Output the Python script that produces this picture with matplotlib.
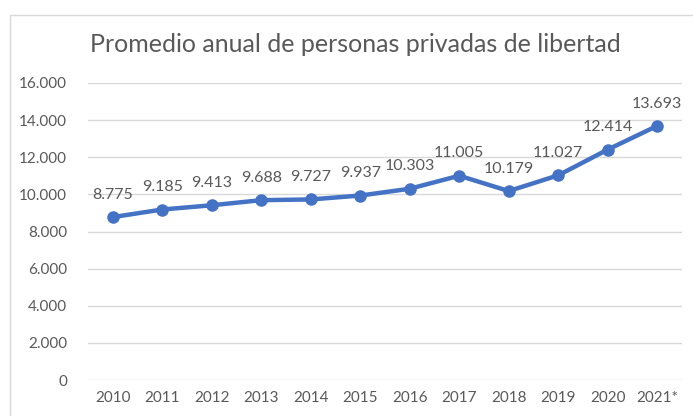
import matplotlib.pyplot as plt
from matplotlib.patches import Rectangle

years = ["2010", "2011", "2012", "2013", "2014", "2015", "2016", "2017", "2018", "2019", "2020", "2021*"]
promedio = [8775, 9185, 9413, 9688, 9727, 9937, 10303, 11005, 10179, 11027, 12414, 13693]
yticks = [0, 2000, 4000, 6000, 8000, 10000, 12000, 14000, 16000]

plt.rcParams['font.family'] = ['Lato', 'DejaVu Sans']
gray = "#595959"

fig = plt.figure(figsize=(6.93, 4.16), dpi=100)
ax = fig.add_axes([88 / 693, 1 - 380 / 416, (682 - 88) / 693, (380 - 83) / 416])

x = list(range(len(years)))
ax.plot(x, promedio, color="#4472C4", lw=3.2, marker="o", ms=8, zorder=3)
for xi, v in zip(x, promedio):
    lbl = f"{v:,}".replace(",", ".")
    ax.annotate(lbl, (xi, v), xytext=(0, 11), textcoords="offset points",
                ha="center", va="bottom", fontsize=11.5, color=gray)

ax.set_xlim(-0.5, len(years) - 0.5)
ax.set_ylim(0, 16000)
ax.set_xticks(x)
ax.set_xticklabels(years)
ax.set_yticks(yticks)
ax.set_yticklabels([f"{t:,}".replace(",", ".") for t in yticks])
ax.tick_params(length=0, labelsize=11, labelcolor=gray, pad=8)
ax.tick_params(axis="y", pad=15)
ax.grid(axis="y", color="#D9D9D9", lw=1)
ax.set_axisbelow(True)
for s in ax.spines.values():
    s.set_visible(False)

# chart frame
fig.patches.append(Rectangle((10 / 693, -0.1), 1.2, 1 - 15 / 416 + 0.1, transform=fig.transFigure,
                             fill=False, ec="#D9D9D9", lw=1))

fig.text(355 / 693, 1 - 44 / 416, "Promedio anual de personas privadas de libertad",
         ha="center", va="center", fontsize=18, color=gray)

fig.savefig("out.png", dpi=100)
